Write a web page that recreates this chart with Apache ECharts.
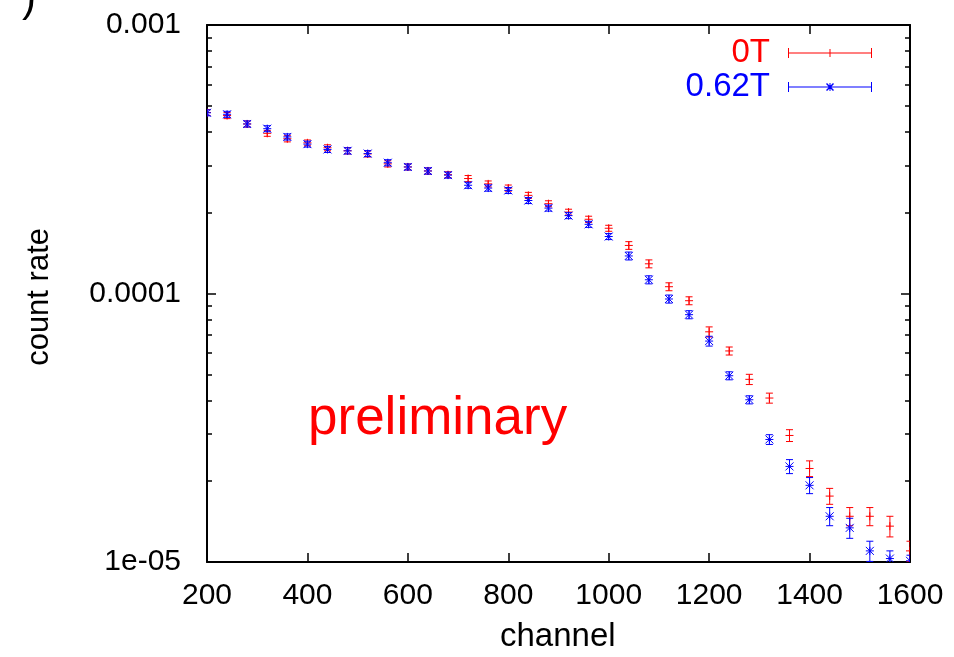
<!DOCTYPE html>
<html>
<head>
<meta charset="utf-8">
<script src="https://cdn.jsdelivr.net/npm/echarts@6.0.0/dist/echarts.min.js"></script>
<style>
  html, body { margin: 0; padding: 0; background: #fff; }
  #chart { width: 954px; height: 657px; }
</style>
</head>
<body>
<div id="chart"></div>
<script>
// channels, every 40 from 200 to 1600
const channels = [200, 240, 280, 320, 360, 400, 440, 480, 520, 560, 600, 640, 680, 720, 760, 800, 840, 880,
  920, 960, 1000, 1040, 1080, 1120, 1160, 1200, 1240, 1280, 1320, 1360, 1400, 1440, 1480, 1520, 1560, 1600];

// 0T (red)
const rate0T = [4.72e-4, 4.60e-4, 4.28e-4, 3.95e-4, 3.77e-4, 3.64e-4, 3.49e-4, 3.40e-4, 3.31e-4, 3.04e-4,
  2.96e-4, 2.86e-4, 2.77e-4, 2.68e-4, 2.56e-4, 2.47e-4, 2.32e-4, 2.16e-4, 2.01e-4, 1.89e-4, 1.75e-4,
  1.51e-4, 1.29e-4, 1.06e-4, 9.4e-5, 7.2e-5, 6.11e-5, 4.79e-5, 4.08e-5, 2.96e-5, 2.23e-5, 1.76e-5,
  1.48e-5, 1.48e-5, 1.36e-5, 1.10e-5];
const err0T = [1.2e-5, 1.2e-5, 1.1e-5, 1.0e-5, 1.0e-5, 9e-6, 9e-6, 9e-6, 8.5e-6, 8e-6, 7.5e-6, 7.5e-6, 7e-6,
  7e-6, 6.5e-6, 6.5e-6, 6e-6, 5.5e-6, 5e-6, 5e-6, 4.5e-6, 5e-6, 4.4e-6, 3.6e-6, 3.2e-6, 3.1e-6, 2.1e-6,
  2.1e-6, 1.75e-6, 1.5e-6, 1.5e-6, 1.2e-6, 1.15e-6, 1.15e-6, 1.2e-6, 0.95e-6];

// 0.62T (blue)
const rate062T = [4.71e-4, 4.65e-4, 4.28e-4, 4.11e-4, 3.83e-4, 3.60e-4, 3.44e-4, 3.40e-4, 3.32e-4, 3.07e-4,
  2.96e-4, 2.86e-4, 2.76e-4, 2.53e-4, 2.47e-4, 2.42e-4, 2.22e-4, 2.08e-4, 1.95e-4, 1.81e-4, 1.63e-4,
  1.38e-4, 1.125e-4, 9.54e-5, 8.34e-5, 6.65e-5, 4.94e-5, 4.02e-5, 2.86e-5, 2.27e-5, 1.93e-5, 1.48e-5,
  1.34e-5, 1.10e-5, 1.03e-5, 1.01e-5];
const err062T = [1.2e-5, 1.2e-5, 1.1e-5, 1.05e-5, 1.0e-5, 9e-6, 9e-6, 9e-6, 8.5e-6, 8e-6, 7.5e-6, 7.5e-6, 7e-6,
  6.5e-6, 6.5e-6, 6.2e-6, 5.7e-6, 5.3e-6, 5e-6, 4.7e-6, 4.2e-6, 4.7e-6, 3.9e-6, 3.3e-6, 2.9e-6, 2.8e-6, 1.7e-6,
  1.4e-6, 1.2e-6, 1.36e-6, 1.33e-6, 1.15e-6, 1.15e-6, 0.95e-6, 0.7e-6, 0.5e-6];

const yTickValues = [1e-5, 1e-4, 1e-3];
const yTickLabels = ['1e-05', '0.0001', '0.001'];

// minor ticks 2..9 in each decade
const yMinorTicks = [];
[1e-5, 1e-4].forEach(d => { for (let k = 2; k <= 9; k++) yMinorTicks.push(k * d); });

const FONT = 'Liberation Sans, Arial, Helvetica, sans-serif';
const RED = '#ff0000';
const BLUE = '#0000ff';

function makeData(vals, errs) {
  return channels.map((c, i) => [c, vals[i], errs[i]]);
}

function errRender(color, star) {
  return function (params, api) {
    const x = api.value(0), y = api.value(1), e = api.value(2);
    const c = api.coord([x, y]);
    const lo = api.coord([x, y - e]);
    const hi = api.coord([x, y + e]);
    const cap = 3.5, m = 4;
    const style = { stroke: color, lineWidth: 1, fill: null };
    const seg = (x1, y1, x2, y2) => ({ type: 'line', shape: { x1, y1, x2, y2 }, style });
    const kids = [
      seg(c[0], lo[1], c[0], hi[1]),
      seg(c[0] - cap, lo[1], c[0] + cap, lo[1]),
      seg(c[0] - cap, hi[1], c[0] + cap, hi[1]),
      seg(c[0] - m, c[1], c[0] + m, c[1]),
      seg(c[0], c[1] - m, c[0], c[1] + m)
    ];
    if (star) {
      kids.push(seg(c[0] - m, c[1] - m, c[0] + m, c[1] + m));
      kids.push(seg(c[0] - m, c[1] + m, c[0] + m, c[1] - m));
    }
    return { type: 'group', children: kids };
  };
}

const iconRed = 'path://M0,0H1V10H0Z M83,0H84V10H83Z M0,4.5H84V5.5H0Z M41.5,1H42.5V9H41.5Z';
const iconBlue = 'path://M0,0H1V10H0Z M83,0H84V10H83Z M0,4.5H84V5.5H0Z M41.5,1H42.5V9H41.5Z ' +
  'M38,2L39,1L46,8L45,9Z M45,1L46,2L39,9L38,8Z';

const chart = echarts.init(document.getElementById('chart'));

const xBase = {
  type: 'value', min: 200, max: 1600, interval: 200,
  splitLine: { show: false },
  axisLine: { onZero: false, lineStyle: { color: '#000', width: 2 } },
  axisTick: { inside: true, length: 9, lineStyle: { color: '#000', width: 1.5 } }
};

const yBase = {
  type: 'log', logBase: 10, min: 1e-5, max: 1e-3,
  splitLine: { show: false },
  axisLine: { onZero: false, lineStyle: { color: '#000', width: 2 } },
  axisTick: { inside: true, length: 9, lineStyle: { color: '#000', width: 1.5 } }
};

const yMinor = Object.assign({}, yBase, {
  axisLine: { show: false },
  axisLabel: { show: false },
  axisTick: { inside: true, length: 5, customValues: yMinorTicks, lineStyle: { color: '#000', width: 1.5 } }
});

chart.setOption({
  animation: false,
  backgroundColor: '#fff',
  grid: { left: 207, right: 44, top: 25, bottom: 95 },
  xAxis: [
    Object.assign({}, xBase, {
      position: 'bottom',
      axisLabel: { color: '#000', fontSize: 30, fontFamily: FONT, margin: 19, formatter: v => String(v) }
    }),
    Object.assign({}, xBase, { position: 'top', axisLabel: { show: false } })
  ],
  yAxis: [
    Object.assign({}, yBase, {
      position: 'left',
      axisLabel: {
        color: '#000', fontSize: 30, fontFamily: FONT, margin: 26,
        formatter: v => {
          const i = yTickValues.findIndex(t => Math.abs(Math.log10(t) - Math.log10(v)) < 1e-6);
          return i >= 0 ? yTickLabels[i] : '';
        }
      }
    }),
    Object.assign({}, yBase, { position: 'right', axisLabel: { show: false } }),
    Object.assign({}, yMinor, { position: 'left' }),
    Object.assign({}, yMinor, { position: 'right' })
  ],
  legend: {
    orient: 'vertical', align: 'right', right: 77, top: 31,
    itemWidth: 84, itemHeight: 10, itemGap: 0,
    selectedMode: false,
    itemStyle: { borderWidth: 0 },
    textStyle: { fontSize: 33, fontFamily: FONT, lineHeight: 34, padding: [0, 13, 0, 0] },
    data: [
      { name: '0T', icon: iconRed, textStyle: { color: RED } },
      { name: '0.62T', icon: iconBlue, textStyle: { color: BLUE } }
    ]
  },
  graphic: [
    {
      type: 'text', left: 308, top: 393,
      style: { text: 'preliminary', fill: RED, font: '53px ' + FONT }
    },
    {
      type: 'text', left: 24, top: 228, rotation: Math.PI / 2,
      style: { text: 'count rate', fill: '#000', font: '31px ' + FONT }
    },
    {
      type: 'text', left: 500, top: 620,
      style: { text: 'channel', fill: '#000', font: '33px ' + FONT }
    },
    {
      type: 'text', left: 22, top: -22,
      style: { text: ')', fill: '#000', font: '42px ' + FONT }
    }
  ],
  series: [
    {
      name: '0T', type: 'custom', xAxisIndex: 0, yAxisIndex: 0, clip: true,
      itemStyle: { color: RED },
      renderItem: errRender(RED, false),
      encode: { x: 0, y: 1 },
      data: makeData(rate0T, err0T)
    },
    {
      name: '0.62T', type: 'custom', xAxisIndex: 0, yAxisIndex: 0, clip: true,
      itemStyle: { color: BLUE },
      renderItem: errRender(BLUE, true),
      encode: { x: 0, y: 1 },
      data: makeData(rate062T, err062T)
    }
  ]
});
</script>
</body>
</html>
